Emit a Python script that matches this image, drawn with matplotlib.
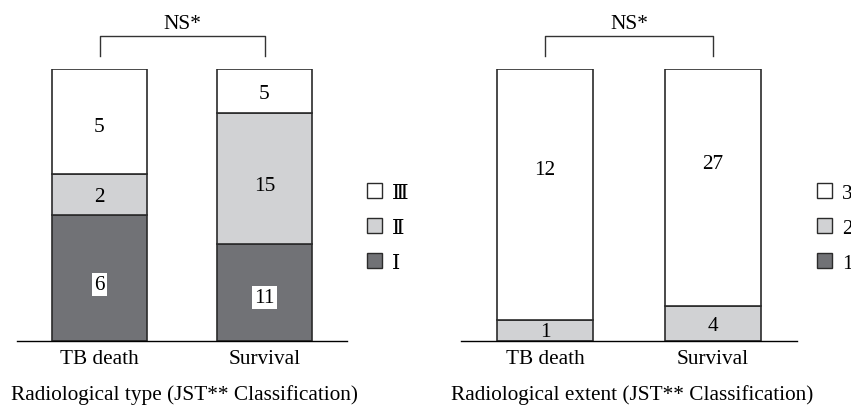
import matplotlib.pyplot as plt
from matplotlib.patches import Patch

plt.rcParams['font.family'] = ['Liberation Serif', 'DejaVu Serif']

groups = ["TB death", "Survival"]

# Radiological type (JST classification), counts per group
type_names = ["Ⅰ", "Ⅱ", "Ⅲ"]
type_counts = [[6, 11], [2, 15], [5, 5]]

# Radiological extent (JST classification), counts per group
extent_names = ["1", "2", "3"]
extent_counts = [[0, 0], [1, 4], [12, 27]]

captions = ["Radiological type (JST** Classification)",
            "Radiological extent (JST** Classification)"]
sig_text = "NS*"

colors = ["#717276", "#d1d2d4", "#ffffff"]
edge = "#2b2b2b"
FS = 15.3

W, H = 851, 406
fig = plt.figure(figsize=(W / 100, H / 100), dpi=100)


def px_axes(x0, x1, ybot, ytop):
    return fig.add_axes([x0 / W, 1 - ybot / H, (x1 - x0) / W, (ybot - ytop) / H])


def panel(ax, counts, names, caption, leg_x, cap_x):
    totals = [sum(c[i] for c in counts) for i in range(len(groups))]
    x = list(range(len(groups)))
    bottoms = [0.0] * len(groups)
    for k, row in enumerate(counts):
        fr = [row[i] / totals[i] for i in x]
        ax.bar(x, fr, 0.57, bottom=bottoms, color=colors[k], edgecolor=edge,
               linewidth=1.2, label=names[k])
        for i in x:
            if row[i] == 0:
                continue
            pos = 0.6 if fr[i] > 0.7 else 0.45
            yy = bottoms[i] + fr[i] * pos
            if k == 0:
                ax.text(i, yy, str(row[i]), ha='center', va='center', fontsize=FS,
                        bbox=dict(facecolor='white', edgecolor='none', pad=1.5))
            else:
                ax.text(i, yy, str(row[i]), ha='center', va='center', fontsize=FS)
        bottoms = [bottoms[i] + fr[i] for i in x]
    ax.set_xlim(-0.5, 1.5)
    ax.set_ylim(0, 1)
    for s in ['top', 'left', 'right']:
        ax.spines[s].set_visible(False)
    ax.spines['bottom'].set_linewidth(1.0)
    ax.set_yticks([])
    ax.set_xticks(x)
    ax.set_xticklabels(groups, fontsize=FS)
    ax.tick_params(axis='x', length=0, pad=6)
    # significance bracket
    ax.plot([0, 0, 1, 1], [1.048, 1.121, 1.121, 1.048], color='#333333', lw=1.0,
            clip_on=False)
    ax.text(0.5, 1.168, sig_text, ha='center', va='center', fontsize=FS)
    fig.text(cap_x / W, 1 - 395 / H, caption, ha='left', va='center', fontsize=FS)
    handles = [Patch(facecolor=colors[k], edgecolor=edge, lw=1.0) for k in range(3)][::-1]
    ax.legend(handles, names[::-1], loc='center left', frameon=False,
              bbox_to_anchor=(leg_x / W, 1 - 229 / H), bbox_transform=fig.transFigure,
              fontsize=FS, handlelength=0.72, handleheight=0.72, handletextpad=0.45,
              labelspacing=0.7, borderaxespad=0, borderpad=0)


ax1 = px_axes(17, 347, 342, 70)
panel(ax1, type_counts, type_names, captions[0], 367, 11)

ax2 = px_axes(461, 797, 342, 70)
panel(ax2, extent_counts, extent_names, captions[1], 817, 451)

fig.savefig("out.png", dpi=100)
